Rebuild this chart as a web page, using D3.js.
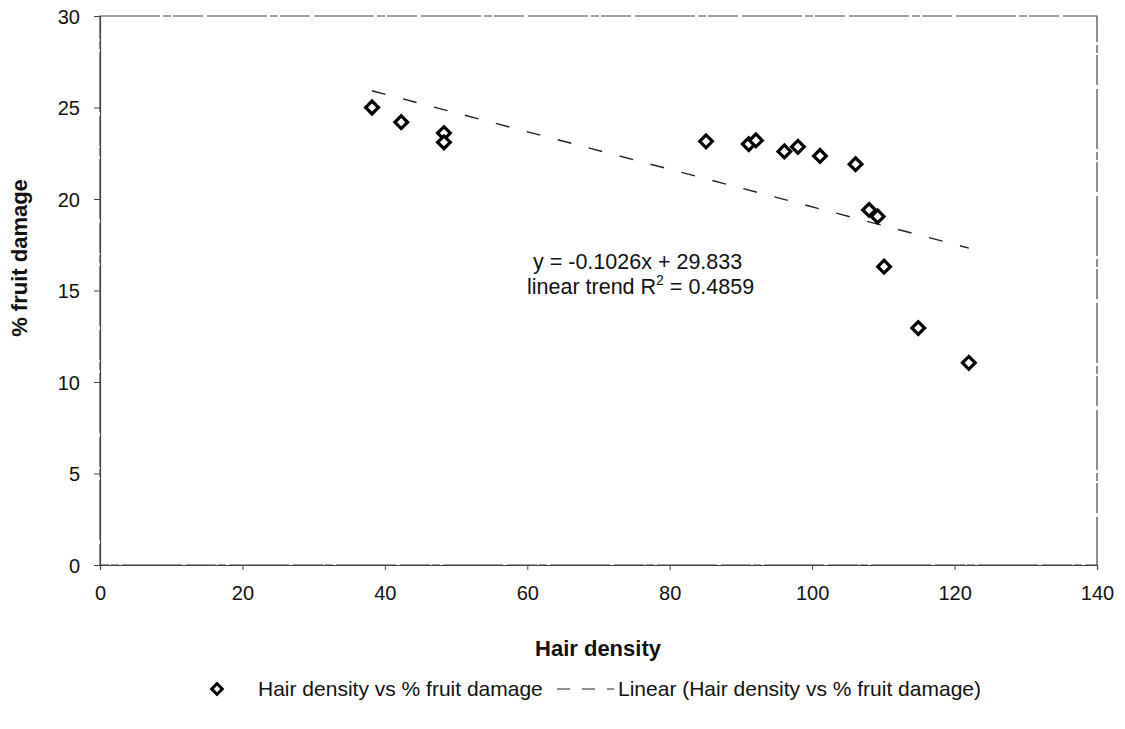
<!DOCTYPE html>
<html><head><meta charset="utf-8">
<script src="https://cdn.jsdelivr.net/npm/d3@7"></script>
<style>body{margin:0;background:#fff}svg{display:block;font-family:"Liberation Sans",Arial,sans-serif}</style>
</head><body><svg id="c" width="1125" height="729"></svg>
<script>
const hairDensity = [38.2, 42.3, 48.3, 48.3, 85.1, 91.1, 92.1, 96.1, 98.0, 101.1, 106.1, 108.0, 109.2, 110.1, 114.9, 122.0];
const fruitDamage = [25.0, 24.2, 23.6, 23.1, 23.15, 23.0, 23.2, 22.6, 22.85, 22.35, 21.9, 19.4, 19.05, 16.3, 12.95, 11.05];
const trendSlope = -0.1026, trendIntercept = 29.833;
const trendRange = [38.2, 122.0];
const xTicks = [0, 20, 40, 60, 80, 100, 120, 140];
const yTicks = [0, 5, 10, 15, 20, 25, 30];
const xTitle = "Hair density", yTitle = "% fruit damage";
const eqLine1 = "y = -0.1026x + 29.833";
const legendScatter = "Hair density vs % fruit damage";
const legendLinear = "Linear (Hair density vs % fruit damage)";

const svg = d3.select("#c");
const x = d3.scaleLinear().domain([0, 140]).range([100, 1097]);
const y = d3.scaleLinear().domain([0, 30]).range([565, 16]);
const lineCol = "#444";

// frame
svg.append("rect").attr("x", x(0)).attr("y", y(30)).attr("width", x(140) - x(0)).attr("height", y(0) - y(30))
  .attr("fill", "none").attr("stroke", lineCol).attr("stroke-width", 1.2).attr("stroke-dasharray", "60,3,8,2,30,4");

// axes
const xAxis = d3.axisBottom(x).tickValues(xTicks).tickSize(5).tickPadding(12);
const gx = svg.append("g").attr("transform", `translate(0,${y(0)})`).call(xAxis);
const yAxis = d3.axisLeft(y).tickValues(yTicks).tickSize(6).tickPadding(14);
const gy = svg.append("g").attr("transform", `translate(${x(0)},0)`).call(yAxis);
[gx, gy].forEach(g => {
  g.select(".domain").attr("stroke", lineCol).attr("stroke-width", 1.2);
  g.selectAll(".tick line").attr("stroke", lineCol);
  g.selectAll(".tick text").attr("fill", "#111").style("font-size", "20px").style("font-family", "Liberation Sans, Arial, sans-serif");
});
gy.selectAll(".tick text").attr("dy", "0.35em");
gx.selectAll(".tick text").attr("dy", "0.9em");

// titles
svg.append("text").attr("x", 598).attr("y", 656).attr("text-anchor", "middle")
  .style("font-size", "22px").style("font-weight", "bold").attr("fill", "#111").text(xTitle);
svg.append("text").attr("transform", `translate(27,${258}) rotate(-90)`).attr("text-anchor", "middle")
  .style("font-size", "22px").style("font-weight", "bold").attr("fill", "#111").text(yTitle);

// trend line
const line = d3.line().x(d => x(d)).y(d => y(trendSlope * d + trendIntercept));
svg.append("path").datum(trendRange).attr("d", line).attr("fill", "none")
  .attr("stroke", "#222").attr("stroke-width", 1.4).attr("stroke-dasharray", "14,18");

// points
const diamond = d3.symbol().type(d3.symbolSquare).size(81);
svg.append("g").selectAll("path").data(hairDensity).join("path")
  .attr("d", diamond())
  .attr("transform", (d, i) => `translate(${x(d)},${y(fruitDamage[i])}) rotate(45)`)
  .attr("fill", "#fff").attr("stroke", "#000").attr("stroke-width", 3.2);

// annotation
const ann = svg.append("g").style("font-size", "21.5px").attr("fill", "#111");
ann.append("text").attr("x", 533).attr("y", 269).text(eqLine1);
const t2 = ann.append("text").attr("x", 527).attr("y", 294);
t2.append("tspan").text("linear trend R");
t2.append("tspan").attr("dy", -9).style("font-size", "14px").text("2");
t2.append("tspan").attr("dy", 9).text(" = 0.4859");

// legend
const lg = svg.append("g").style("font-size", "21px").attr("fill", "#111");
lg.append("path").attr("d", d3.symbol().type(d3.symbolSquare).size(56)())
  .attr("transform", "translate(217,689) rotate(45)").attr("fill", "#fff").attr("stroke", "#000").attr("stroke-width", 3);
lg.append("text").attr("x", 258).attr("y", 696).text(legendScatter);
lg.append("line").attr("x1", 557).attr("x2", 614).attr("y1", 689).attr("y2", 689)
  .attr("stroke", "#222").attr("stroke-width", 1.2).attr("stroke-dasharray", "13,12");
lg.append("text").attr("x", 618).attr("y", 696).text(legendLinear);
</script></body></html>
